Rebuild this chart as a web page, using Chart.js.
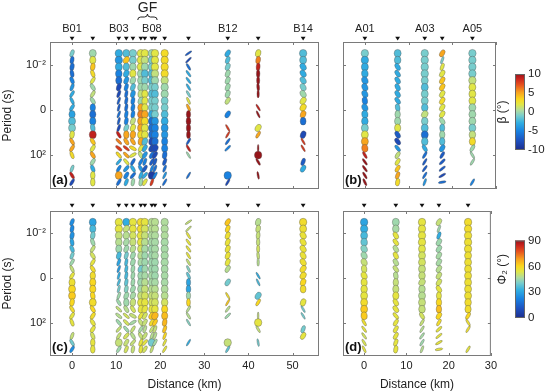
<!DOCTYPE html>
<html><head><meta charset="utf-8">
<script src="https://cdn.jsdelivr.net/npm/chart.js"></script>
<style>
body{margin:0;background:#fff;width:550px;height:392px;overflow:hidden;position:relative;}
canvas{position:absolute;}
</style></head><body>
<canvas id="pa" width="330" height="200" style="left:0;top:0"></canvas>
<canvas id="pb" width="170" height="200" style="left:330px;top:0"></canvas>
<canvas id="pc" width="330" height="192" style="left:0;top:200px"></canvas>
<canvas id="pd" width="170" height="192" style="left:330px;top:200px"></canvas>
<canvas id="cb1" width="60" height="100" style="left:490px;top:60px"></canvas>
<canvas id="cb2" width="60" height="105" style="left:490px;top:225px"></canvas>
<script>
// ---------- data ----------
const logPeriod = [-2.5,-2.2,-1.9,-1.6,-1.3,-1.0,-0.7,-0.4,-0.1,0.2,0.5,0.8,1.1,1.4,1.7,2.0,2.3,2.6,2.9,3.2];
const yTickVals = [-2,0,2];
const yTickLabels = ['10\u207B\u00B2','0','10\u00B2'];
const xTickValsB = [0,10,20,30,40,50];
const xTickValsA = [0,10,20,30];
const betaTicks = [-10,-5,0,5,10];
const phiTicks = [0,30,60,90];

const distB = [0,4.7,10.6,12.3,13.8,15.6,16.5,18.1,18.8,21.0,26.4,35.3,42.2,52.4];
const namesB = ['B01','','B03','','','','','B08','','','','B12','','B14'];
const distA = [0,7.5,13.7,17.7,24.6];
const namesA = ['A01','','A03','','A05'];
const gfRange = [14.9,19.3];

const betaB = [
[-1,-6,-6,-6,-5,-4,-3,-3,-3,-3.5,-2,-1,2,5,5,3,null,-1,9,-8],
[0,2,4,3,2,0,1,0,-5,-6,-5,-2,9,4,2,5,0,-3,2,2],
[-3,-4,-3,-5,-6,-8,-8,-7,-7,-6,-7,-8,9,6,8,3,-3,-5,5,-6],
[-2,4,-2,-3,-4,-5,-6,-6,-6,-5,-5,-1,5,5,8,5,2,-4,-5,-3],
[-1,-1,0,2,0,-2,-4,-5,-5,-5,1,2,5,5,3,2,-6,-3,-6,0],
[2,2,2,0,0,0,1,0,5,6,5,5,3,5,2,1,-5,-4,-3,0],
[2,1,0,-2,-1,0,2,2,2,5,3,2,2,-2,-3,-4,-5,-7,-3,2],
[0,-1,-1,-2,-2,-1,-2,-1,-1,-3,-6,-6,-6,-8,-8,-6,-7,-5,-9,8],
[2,2,2,1,0,-1,-2,-1,-1,-1,-4,-5,-5,-6,-8,-8,-7,-6,-5,null],
[3,3,3,3,1,0,0,-1,-1,-2,-3,-4,-4,-5,-5,-6,-7,-6,-4,-6],
[-7,-8,-6,-3,-3,-3,-1,2,5,10,10,10,10,-7,9,0,null,null,-6,null],
[-3,-2,-1,0,0,0,0,1,null,-5,null,8,8,-6,-5,null,null,null,-5,-8],
[2,6,9,10,10,10,10,null,9,10,null,2,5,null,10,10,10,null,10,null],
[-2,-2,-3,-3,-2,-1,0,2,3,5,-6,null,-8,8,8,null,-7,-3,null,null]
];
const phiB = [
[25,24,26,30,35,40,45,50,55,57,60,62,60,58,55,55,null,50,40,25],
[30,35,40,45,50,52,55,58,58,60,60,60,58,60,58,55,55,52,55,55],
[55,55,50,48,45,35,30,28,32,35,40,45,45,50,48,45,50,50,50,45],
[32,50,48,46,45,40,35,35,35,38,42,45,45,48,52,52,45,52,50,52],
[55,55,52,50,48,45,45,45,45,45,45,46,50,52,50,46,50,48,50,50],
[58,58,55,55,52,48,46,40,45,45,46,50,55,55,55,50,46,50,55,55],
[55,52,50,48,46,45,45,45,46,48,50,52,55,55,52,50,48,50,55,52],
[48,48,47,46,45,45,45,45,46,46,48,50,52,55,62,58,50,48,40,50],
[48,48,47,46,46,46,45,45,45,46,48,50,52,55,65,62,50,48,46,null],
[47,47,47,46,46,46,46,46,46,46,47,48,52,60,64,65,63,60,55,55],
[50,50,55,55,55,55,50,42,38,30,30,45,60,48,48,42,null,null,32,null],
[63,60,57,56,56,56,55,48,null,40,null,58,62,48,45,null,null,null,50,38],
[48,50,50,50,52,50,48,null,32,35,null,38,60,null,50,55,50,null,40,null],
[58,57,56,56,56,56,57,58,58,60,58,null,55,40,40,null,40,55,null,null]
];
const ratioB = [
[.5,.5,.55,.5,.5,.45,.4,.4,.45,.8,.9,.9,.6,.45,.45,.45,null,.4,.4,.4],
[.9,.8,.6,.5,.45,.5,.45,.5,.7,.8,.8,.6,.9,.5,.5,.5,.5,.5,.6,.6],
[.95,.95,.9,.85,.8,.6,.4,.3,.3,.3,.3,.35,.4,.35,.4,.4,.35,.4,.9,.4],
[.9,.7,.8,.7,.6,.5,.4,.4,.4,.45,.5,.6,.7,.5,.35,.4,.4,.45,.5,.45],
[.95,.9,.85,.8,.7,.6,.6,.5,.5,.5,.6,.65,.7,.5,.45,.4,.4,.45,.4,.45],
[.95,.95,.95,.9,.85,.8,.75,.7,.8,.85,.85,.85,.85,.7,.5,.5,.4,.45,.45,.5],
[.95,.95,.9,.9,.85,.8,.8,.75,.8,.85,.9,.9,.85,.7,.5,.5,.4,.45,.4,.45],
[.95,.95,.95,.95,.95,.9,.9,.9,.9,.9,.9,.9,.85,.8,.7,.5,.4,.35,.95,.35],
[.95,.95,.95,.95,.95,.9,.9,.9,.9,.9,.9,.9,.9,.85,.8,.5,.4,.35,.35,null],
[.95,.95,.95,.95,.95,.95,.95,.9,.9,.9,.9,.9,.85,.8,.8,.6,.45,.35,.3,.3],
[.25,.25,.3,.3,.3,.3,.3,.3,.35,.55,.6,.55,.5,.3,.3,.25,null,null,.25,null],
[.6,.55,.6,.6,.6,.6,.6,.55,null,.6,null,.25,.25,.3,.3,null,null,null,.95,.3],
[.7,.6,.5,.45,.4,.35,.3,null,.25,.25,null,.7,.4,null,.15,.95,.3,null,.25,null],
[.95,.9,.75,.7,.7,.7,.7,.7,.75,.7,.75,null,.7,.25,.25,null,.5,.6,null,null]
];
const angleB = [
[70,80,80,100,110,70,60,115,60,90,90,90,80,120,60,110,null,70,120,60],
[90,90,80,110,60,120,60,120,90,90,90,100,90,120,60,120,60,110,90,90],
[90,90,90,90,90,75,70,70,75,70,75,70,120,135,140,130,50,60,90,60],
[90,60,80,70,70,75,80,80,80,80,80,70,90,120,140,135,130,50,60,70],
[90,90,90,80,70,70,75,80,80,80,70,70,80,120,150,30,60,120,50,80],
[90,90,90,90,90,80,80,70,90,90,90,90,90,80,60,120,60,120,70,80],
[90,90,90,90,90,90,90,80,90,90,90,90,90,70,60,60,70,60,50,60],
[90,90,90,90,90,90,90,90,90,90,90,90,90,80,60,60,60,70,90,70],
[90,90,90,90,90,90,90,90,90,90,90,90,90,80,70,60,70,70,60,null],
[90,90,90,90,90,90,90,90,90,90,90,90,90,90,90,80,70,70,65,60],
[35,45,120,125,125,120,120,115,115,90,90,90,90,60,120,120,null,null,60,null],
[60,70,70,70,70,70,70,60,null,60,null,120,60,55,45,null,null,null,90,60],
[75,80,85,90,90,95,90,null,120,115,null,60,60,null,90,90,120,null,100,null],
[90,90,120,120,120,115,120,60,60,70,90,null,70,120,120,null,70,60,null,null]
];

const betaA = [
[-1,-3,-3,-3,-4,-4,-4,-5,-4,-3,-3,-1,2,5,6,9,10,10,10,10],
[-2,-2,-3,-3,-3,-3,-3,-3,-2,0,0,2,-7,-8,-4,1,2,4,5,3],
[-1,-1,-1,-1,-1,-2,-1,-1,-2,1,-1,-2,-6,-2,-3,-6,-7,-7,-6,-4],
[5,-1,2,2,4,4,2,3,2,2,0,-2,0,-2,-4,-7,-7,-7,-8,-6],
[-1,-1,-1,-1,1,2,2,2,0,0,0,-1,1,3,0,0,0,null,null,-5]
];
const phiA = [
[30,32,35,38,42,45,50,52,55,55,55,55,58,62,62,57,55,52,53,55],
[45,46,55,55,48,55,48,50,48,50,50,55,55,55,55,55,55,55,55,55],
[55,55,55,55,54,52,52,50,50,50,48,48,50,50,52,50,48,46,45,48],
[50,45,32,45,45,46,46,48,50,52,55,55,60,64,60,58,55,55,55,55],
[58,58,57,57,57,57,57,57,57,57,57,57,58,58,60,57,57,null,null,55]
];
const ratioA = [
[.95,.95,.9,.85,.8,.75,.75,.7,.75,.8,.85,.9,.9,.9,.8,.35,.3,.3,.3,.3],
[.9,.85,.6,.55,.6,.6,.6,.55,.6,.7,.8,.8,.6,.6,.45,.5,.5,.5,.5,.55],
[.95,.95,.95,.95,.9,.9,.9,.9,.85,.8,.85,.9,.9,.85,.5,.35,.3,.3,.3,.3],
[.6,.3,.45,.6,.6,.6,.6,.6,.6,.6,.6,.65,.7,.7,.6,.4,.35,.3,.3,.3],
[.95,.95,.95,.95,.95,.9,.9,.9,.9,.9,.9,.9,.85,.8,.45,.3,.3,null,null,.3]
];
const angleA = [
[90,90,90,100,110,110,110,100,110,100,90,90,90,90,100,120,125,125,120,115],
[90,90,120,125,120,115,120,125,100,90,90,90,120,125,130,60,60,60,70,80],
[90,90,90,90,90,90,90,90,90,60,90,90,90,90,120,60,60,55,60,70],
[60,70,70,60,60,60,60,60,60,60,120,90,90,90,60,60,45,40,30,10],
[90,90,90,90,90,90,90,90,90,90,90,90,90,90,60,120,60,null,null,60]
];

// ---------- styling helpers ----------
const FONT = 'Arial, "Liberation Sans", sans-serif';
Chart.defaults.font.family = FONT;
Chart.defaults.font.size = 11;
Chart.defaults.color = '#222';

const cmStops = [[0,[30,45,140]],[0.12,[30,80,190]],[0.25,[25,130,225]],[0.36,[50,175,225]],[0.45,[120,205,205]],[0.52,[175,220,160]],[0.6,[225,230,70]],[0.67,[250,215,30]],[0.76,[248,160,30]],[0.86,[230,80,30]],[0.94,[200,35,30]],[1,[150,20,25]]];
function cmap(t){
  t = Math.max(0, Math.min(1, t));
  for (let k=1;k<cmStops.length;k++){
    if (t <= cmStops[k][0]){
      const [t0,c0]=cmStops[k-1],[t1,c1]=cmStops[k];
      const f=(t-t0)/(t1-t0);
      return 'rgb('+c0.map((v,j)=>Math.round(v+(c1[j]-v)*f)).join(',')+')';
    }
  }
  return 'rgb(150,20,25)';
}

function buildPoints(dist, vals, ratios, angles){
  const pts=[];
  dist.forEach((d,s)=>{
    logPeriod.forEach((p,i)=>{
      const c=vals[s][i];
      if(c===null||c===undefined) return;
      pts.push({x:d,y:p,c:c,r:ratios[s][i],a:angles[s][i]});
    });
  });
  return pts;
}

const ellipsePlugin = {
  id:'ellipses',
  afterDatasetsDraw(chart, args, o){
    const ctx=chart.ctx, ds=chart.data.datasets[0], meta=chart.getDatasetMeta(0);
    ctx.save();
    meta.data.forEach((el,i)=>{
      const d=ds.data[i];
      const R=3.9;
      ctx.beginPath();
      ctx.ellipse(el.x, el.y, R, Math.max(R*d.r,0.8), -d.a*Math.PI/180, 0, 2*Math.PI);
      ctx.fillStyle=cmap((d.c-o.lo)/(o.hi-o.lo));
      ctx.fill();
      ctx.lineWidth=0.5; ctx.strokeStyle='rgba(80,80,80,0.75)';
      ctx.stroke();
    });
    ctx.restore();
  }
};

const decoPlugin = {
  id:'deco',
  afterDraw(chart, args, o){
    const ctx=chart.ctx, a=chart.chartArea, x=chart.scales.x, y=chart.scales.y;
    ctx.save();
    ctx.strokeStyle='#7a7a7a'; ctx.lineWidth=1;
    ctx.strokeRect(a.left+0.5, a.top+0.5, a.right-a.left-1, a.bottom-a.top-1);
    ctx.beginPath();
    o.xTicks.forEach(v=>{const px=Math.round(x.getPixelForValue(v))+0.5;
      ctx.moveTo(px,a.bottom); ctx.lineTo(px,a.bottom-3); ctx.moveTo(px,a.top); ctx.lineTo(px,a.top+3);});
    yTickVals.forEach(v=>{const py=Math.round(y.getPixelForValue(v))+0.5;
      ctx.moveTo(a.left,py); ctx.lineTo(a.left+3,py); ctx.moveTo(a.right,py); ctx.lineTo(a.right-3,py);});
    ctx.stroke();
    // station triangles
    ctx.fillStyle='#111';
    o.stations.forEach(d=>{
      const px=x.getPixelForValue(d), ty=a.top-o.triGap;
      ctx.beginPath(); ctx.moveTo(px-2.4,ty-3.8); ctx.lineTo(px+2.4,ty-3.8); ctx.lineTo(px,ty); ctx.closePath(); ctx.fill();
    });
    // station names
    if(o.names){
      ctx.font='11px '+FONT; ctx.textAlign='center'; ctx.textBaseline='middle'; ctx.fillStyle='#222';
      o.names.forEach((n,k)=>{ if(n) ctx.fillText(n, x.getPixelForValue(o.stations[k]), a.top-13.5); });
    }
    // GF brace
    if(o.gf){
      const x0=x.getPixelForValue(o.gf[0]), x1=x.getPixelForValue(o.gf[1]), xm=(x0+x1)/2;
      const yb=20, yt=17, tip=14;
      ctx.strokeStyle='#222'; ctx.lineWidth=1;
      ctx.beginPath();
      ctx.moveTo(x0,yb); ctx.quadraticCurveTo(x0,yt,x0+3,yt); ctx.lineTo(xm-3,yt);
      ctx.quadraticCurveTo(xm,yt,xm,tip); ctx.quadraticCurveTo(xm,yt,xm+3,yt);
      ctx.lineTo(x1-3,yt); ctx.quadraticCurveTo(x1,yt,x1,yb);
      ctx.stroke();
      ctx.font='14px '+FONT; ctx.textAlign='center'; ctx.textBaseline='middle'; ctx.fillStyle='#222';
      ctx.fillText('GF', xm, 8);
    }
    // panel letter
    ctx.font='bold 13px '+FONT; ctx.textAlign='left'; ctx.textBaseline='middle'; ctx.fillStyle='#111';
    ctx.fillText(o.letter, a.left+2, a.bottom-9);
    ctx.restore();
  }
};

function panel(id, p){
  const xAxis = {type:'linear', min:p.xmin, max:p.xmax, display:p.showX,
    grid:{display:false, drawTicks:false}, border:{display:false},
    afterBuildTicks:s=>{s.ticks=p.xTicks.map(v=>({value:v}));},
    ticks:{padding:3, font:{size:11}},
    title:{display:true, text:'Distance (km)', font:{size:12}, padding:{top:0,bottom:0}},
    afterFit:s=>{s.height=p.showX?36:0;}};
  const yAxis = {type:'linear', min:-3, max:3.5, reverse:true, display:p.showY,
    grid:{display:false, drawTicks:false}, border:{display:false},
    afterBuildTicks:s=>{s.ticks=yTickVals.map(v=>({value:v}));},
    ticks:{padding:4, font:{size:11}, callback:(v)=>yTickLabels[yTickVals.indexOf(v)]},
    title:{display:true, text:'Period (s)', font:{size:12}, padding:{top:0,bottom:0}},
    afterFit:s=>{s.width=p.showY?50:0;}};
  return new Chart(document.getElementById(id), {
    type:'scatter',
    data:{datasets:[{data:p.points, pointRadius:0, pointHoverRadius:0}]},
    options:{responsive:false, animation:false, events:[],
      layout:{padding:p.pad},
      plugins:{legend:{display:false}, tooltip:{enabled:false},
        ellipses:{lo:p.lo, hi:p.hi},
        deco:{xTicks:p.xTicks, stations:p.stations, names:p.names, triGap:p.triGap, gf:p.gf, letter:p.letter}},
      scales:{x:xAxis, y:yAxis}},
    plugins:[ellipsePlugin, decoPlugin]
  });
}

panel('pa',{points:buildPoints(distB,betaB,ratioB,angleB), lo:-10, hi:10, xmin:-5, xmax:56, xTicks:xTickValsB,
  showX:false, showY:true, pad:{left:0,top:42,right:11,bottom:11}, stations:distB, names:namesB, triGap:1.5, gf:gfRange, letter:'(a)'});
panel('pb',{points:buildPoints(distA,betaA,ratioA,angleA), lo:-10, hi:10, xmin:-5, xmax:30, xTicks:xTickValsA,
  showX:false, showY:false, pad:{left:13,top:42,right:4,bottom:11}, stations:distA, names:namesA, triGap:1.5, gf:null, letter:'(b)'});
panel('pc',{points:buildPoints(distB,phiB,ratioB,angleB), lo:0, hi:90, xmin:-5, xmax:56, xTicks:xTickValsB,
  showX:true, showY:true, pad:{left:0,top:11,right:11,bottom:0}, stations:distB, names:null, triGap:3.5, gf:null, letter:'(c)'});
panel('pd',{points:buildPoints(distA,phiA,ratioA,angleA), lo:0, hi:90, xmin:-5, xmax:30, xTicks:xTickValsA,
  showX:true, showY:false, pad:{left:13,top:11,right:4,bottom:0}, stations:distA, names:null, triGap:3.5, gf:null, letter:'(d)'});

// ---------- colour bars ----------
const cbPlugin = {
  id:'cbar',
  beforeDatasetsDraw(chart, args, o){
    const ctx=chart.ctx, a=chart.chartArea;
    ctx.save();
    const g=ctx.createLinearGradient(0,a.bottom,0,a.top);
    cmStops.forEach(([t,c])=>g.addColorStop(t,'rgb('+c.join(',')+')'));
    ctx.fillStyle=g; ctx.fillRect(a.left,a.top,a.right-a.left,a.bottom-a.top);
    ctx.strokeStyle='#666'; ctx.lineWidth=1;
    ctx.strokeRect(a.left+0.5,a.top+0.5,a.right-a.left-1,a.bottom-a.top-1);
    ctx.translate(o.tx, (a.top+a.bottom)/2+o.dy); ctx.rotate(-Math.PI/2);
    ctx.font='12px '+FONT; ctx.fillStyle='#222'; ctx.textAlign='center'; ctx.textBaseline='middle';
    ctx.fillText(o.title,0,0);
    ctx.restore();
  }
};
function colorbar(id, lo, hi, ticks, title, pad, dy){
  return new Chart(document.getElementById(id), {
    type:'scatter', data:{datasets:[]},
    options:{responsive:false, animation:false, events:[], layout:{padding:pad},
      plugins:{legend:{display:false}, tooltip:{enabled:false}, cbar:{title:title, tx:13, dy:dy}},
      scales:{x:{display:false,min:0,max:1},
        y:{position:'right', min:lo, max:hi, grid:{display:false, drawTicks:false}, border:{display:false},
          afterBuildTicks:s=>{s.ticks=ticks.map(v=>({value:v}));},
          ticks:{padding:3, font:{size:11.5}}, afterFit:s=>{s.width=25;}}}},
    plugins:[cbPlugin]
  });
}
colorbar('cb1', -10, 10, betaTicks, '\u03B2 (\u00B0)', {left:25,top:14,bottom:10,right:0}, 0);
colorbar('cb2', 0, 90, phiTicks, '\u03A6\u2082 (\u00B0)', {left:25,top:15.5,bottom:12,right:0}, -10);
</script>
</body></html>
